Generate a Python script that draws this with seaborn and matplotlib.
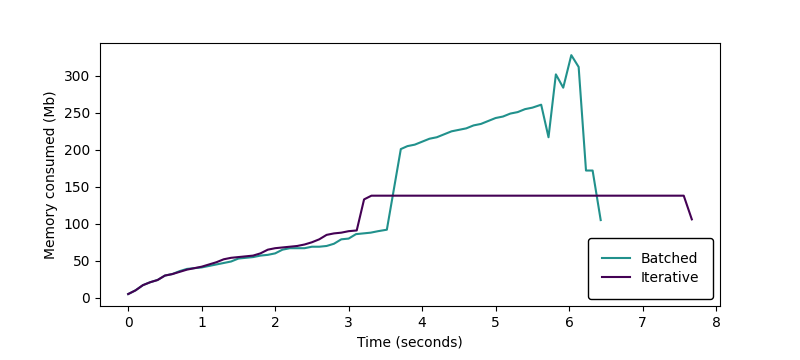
import pandas as pd
import matplotlib
matplotlib.use("Agg")
import matplotlib.pyplot as plt
import seaborn as sns

# Batched run: time (s) and memory (Mb)
batched_time = [0.0, 0.1, 0.2, 0.3, 0.4, 0.5, 0.6, 0.7, 0.8, 0.9,
                1.0, 1.1, 1.2, 1.3, 1.4, 1.5, 1.6, 1.7, 1.8, 1.9,
                2.0, 2.1, 2.2, 2.3, 2.4, 2.5, 2.6, 2.7, 2.8, 2.9,
                3.0, 3.1, 3.2, 3.3, 3.4, 3.52, 3.71, 3.8, 3.9, 4.0,
                4.1, 4.2, 4.3, 4.4, 4.5, 4.6, 4.7, 4.8, 4.9, 5.0,
                5.1, 5.2, 5.3, 5.4, 5.5, 5.62, 5.72, 5.82, 5.92, 6.03,
                6.13, 6.23, 6.32, 6.43]
batched_mem = [5, 10, 17, 21, 24, 30, 32, 36, 39, 40,
               41, 43, 45, 47, 49, 53, 54, 55, 57, 58,
               60, 65, 67, 67, 67, 69, 69, 70, 73, 79,
               80, 86, 87, 88, 90, 92, 201, 205, 207, 211,
               215, 217, 221, 225, 227, 229, 233, 235, 239, 243,
               245, 249, 251, 255, 257, 261, 217, 302, 284, 328,
               312, 172, 172, 105]

# Iterative run
iter_time = [0.0, 0.1, 0.2, 0.3, 0.4, 0.5, 0.6, 0.7, 0.8, 0.9,
             1.0, 1.1, 1.2, 1.3, 1.4, 1.5, 1.6, 1.7, 1.8, 1.9,
             2.0, 2.1, 2.2, 2.3, 2.4, 2.5, 2.6, 2.7, 2.8, 2.9,
             3.0, 3.11, 3.21, 3.31, 7.56, 7.67]
iter_mem = [5, 10, 17, 21, 24, 30, 32, 35, 38, 40,
            42, 45, 48, 52, 54, 55, 56, 57, 60, 65,
            67, 68, 69, 70, 72, 75, 79, 85, 87, 88,
            90, 91, 133, 138, 138, 106]

df = pd.concat([
    pd.DataFrame({"time": batched_time, "mem": batched_mem, "run": "Batched"}),
    pd.DataFrame({"time": iter_time, "mem": iter_mem, "run": "Iterative"}),
])

colors = {"Batched": "#21918c", "Iterative": "#440154"}

fig, ax = plt.subplots(figsize=(8, 3.6), dpi=100)
fig.subplots_adjust(left=0.125, right=0.9, top=0.88, bottom=0.15)

sns.lineplot(data=df, x="time", y="mem", hue="run", palette=colors,
             sort=False, estimator=None, linewidth=1.5, ax=ax)

ax.set_xlabel("Time (seconds)")
ax.set_ylabel("Memory consumed (Mb)")
ax.set_xticks(range(0, 9))
ax.set_yticks(range(0, 301, 50))

# legend with dark frame, bottom right
leg = ax.legend(loc="lower right", title=None, fancybox=True,
                framealpha=1, borderpad=1.0, labelspacing=0.4)
leg.get_frame().set_edgecolor("black")

plt.savefig("out.png")
